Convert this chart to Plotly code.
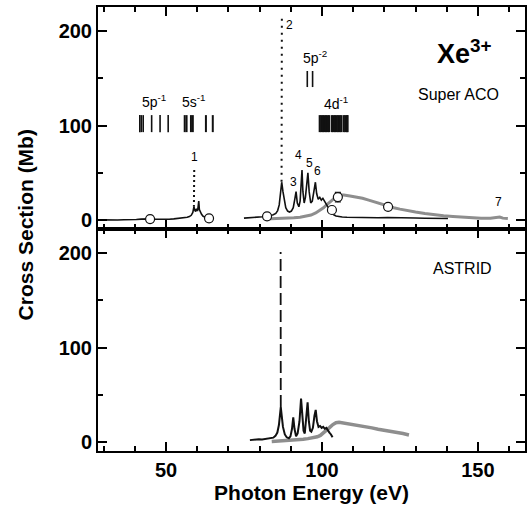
import plotly.graph_objects as go

# ---------------- data ----------------
# Super ACO, black curve, 5s region
sa_black1_e = [28.5, 30.5, 32.5, 34.5, 36.5, 38.5, 40.5, 42.0, 43.5, 45.0, 46.5, 48.0, 49.5, 51.0,
               52.5, 54.0, 55.0, 56.0, 56.8, 57.5, 58.1, 58.6, 58.95, 59.2, 59.5, 59.8, 60.1, 60.3,
               60.5, 60.7, 61.0, 61.4, 61.9, 62.5, 63.1, 63.8]
sa_black1_v = [0.2, 0.0, 0.4, 0.1, 0.3, 0.2, 0.5, 0.9, 1.4, 1.2, 0.9, 0.7, 1.0, 0.8,
               1.2, 1.6, 1.9, 2.4, 2.9, 3.6, 5.0, 8.0, 14.0, 11.0, 9.0, 12.0, 9.5, 14.0,
               20.0, 11.0, 8.5, 6.0, 4.0, 3.0, 2.0, 1.3]
sa_peak1_e = [59.05, 58.95]
sa_peak1_v = [53.0, 14.0]

# Super ACO, black curve, 4d region
sa_black2_e = [75.0, 76.5, 78.0, 79.5, 81.0, 82.4, 83.4, 84.4, 85.2, 85.8, 86.3, 86.7, 87.1,
               87.5, 87.9, 88.4, 89.0, 89.6, 90.2, 90.8, 91.3, 91.7, 92.1, 92.6, 93.0, 93.3, 93.6,
               93.9, 94.3, 94.7, 95.1, 95.5, 95.9, 96.4, 96.9, 97.4, 97.9, 98.3, 98.8, 99.3,
               99.8, 100.3, 100.8, 101.3, 101.8, 102.4, 103.2, 103.8, 104.5, 105.3, 106.5, 108,
               110, 112, 115, 118, 121, 124, 127, 130, 133, 136, 139, 140.4]
sa_black2_v = [2.0, 2.2, 2.6, 3.0, 3.5, 4.0, 4.6, 5.6, 7.0, 10.0, 16.0, 28.0, 40.0,
               30.0, 20.0, 13.0, 9.5, 8.5, 9.5, 13.0, 22.0, 30.0, 18.0, 14.0, 20.0, 35.0, 53.0,
               30.0, 18.0, 24.0, 38.0, 50.0, 30.0, 18.0, 20.0, 30.0, 40.0, 28.0, 22.0, 24.0,
               21.0, 23.0, 20.0, 17.0, 14.0, 11.0, 8.0, 5.5, 4.2, 3.6, 3.2, 3.0,
               2.8, 3.0, 2.6, 2.4, 2.6, 2.2, 2.0, 2.1, 1.9, 1.8, 1.7, 1.6]
sa_peak2_e = [87.15, 87.05]
sa_peak2_v = [213.0, 40.0]

# Super ACO, grey curve
sa_grey_e = [81.7, 83, 85, 87, 89, 91, 93, 95, 96.5, 98, 99.5, 100.5, 101.5, 102.5, 103.5,
             104.5, 105.5, 107, 109, 111, 113, 115, 117, 119, 121, 123, 125, 127, 130, 133,
             136, 139, 142, 145, 148, 151, 154, 156, 157, 158, 159.6]
sa_grey_v = [1.0, 1.1, 1.3, 1.6, 1.9, 2.3, 2.9, 4.0, 5.3, 7.5, 10.5, 13.0, 16.0, 19.0, 22.0,
             24.5, 26.5, 26.5, 25.5, 24.5, 23.0, 21.0, 19.0, 16.5, 14.5, 13.0, 11.5, 10.0, 8.5, 7.0,
             5.5, 4.5, 3.8, 3.0, 2.5, 2.0, 1.8, 2.2, 3.2, 2.0, 1.6]

# open circles (absolute measurements)
circ_e = [44.9, 63.8, 82.4, 103.2, 121.2]
circ_v = [1.0, 1.8, 3.9, 10.6, 14.0]
circ_err_e = [105.1]
circ_err_v = [24.3]
circ_err = [5.0]

# ASTRID, black curve
as_black_e = [76.9, 77.8, 78.8, 79.8, 80.8, 81.8, 82.8, 83.6, 84.4, 85.1, 85.7, 86.2, 86.5, 86.8,
              87.1, 87.5, 88.1, 88.7, 89.4, 89.9, 90.4, 90.8, 91.2, 91.7, 92.2, 92.8, 93.3, 93.7,
              94.1, 94.5, 95.0, 95.4, 95.8, 96.2, 96.6, 97.1, 97.6, 98.0, 98.4, 98.9, 99.4,
              99.9, 100.4, 100.9, 101.4, 101.9, 102.4, 102.9, 103.4]
as_black_v = [2.0, 2.5, 2.3, 3.0, 2.8, 3.4, 3.2, 4.0, 4.6, 6.5, 10.0, 18.0, 30.0, 37.0,
              28.0, 16.0, 8.0, 5.0, 4.0, 6.0, 14.0, 26.0, 14.0, 6.0, 9.0, 22.0, 46.0, 26.0,
              12.0, 9.0, 28.0, 42.0, 22.0, 12.0, 11.0, 15.0, 28.0, 34.0, 22.0, 16.0, 17.0,
              15.0, 16.0, 14.0, 15.0, 12.0, 10.0, 8.0, 5.0]
as_peak2_e = [86.8, 86.75]
as_peak2_v = [37.0, 201.0]

# ASTRID, grey curve
as_grey_e = [83.9, 85, 86.5, 88, 89.5, 91, 92.5, 94, 95.5, 97, 98.5, 99.5, 100.5, 101.5, 102.5,
             103.5, 104.5, 105.5, 106.5, 108, 110, 112, 114, 116, 118, 120, 122, 124, 126, 127.9]
as_grey_v = [0.6, 0.8, 1.0, 1.2, 1.5, 1.8, 2.3, 3.0, 3.6, 4.5, 5.5, 7.0, 9.5, 12.5, 15.5,
             18.5, 20.5, 21.0, 20.5, 19.5, 18.5, 17.5, 16.0, 15.0, 13.5, 12.5, 11.0, 10.0, 9.0, 7.5]

# level positions
lev_5p1 = [41.6, 42.1, 42.7, 45.4, 48.1, 50.7]
lev_5s1 = [56.0, 56.6, 58.0, 58.6, 62.8, 65.0]
lev_5p2 = [95.3, 97.0]
lev_4d1 = [99.3, 99.8, 100.3, 100.8, 101.3, 101.8, 102.3, 103.2, 103.7, 104.2, 104.7,
           105.2, 105.7, 106.2, 107.0, 107.5, 108.0, 108.2]

peak_labels = ["1", "2", "3", "4", "5", "6", "7"]
peak_label_e = [59.1, 89.7, 91.0, 92.6, 95.9, 98.6, 156.5]
peak_label_v = [66.3, 206.0, 40.5, 68.8, 60.6, 52.2, 19.4]

x_ticks = [50, 100, 150]
y_ticks = [0, 100, 200]

# ---------------- figure ----------------
FONT = "Liberation Sans, Arial, Helvetica, sans-serif"
BLACK = "#111111"
GREY = "#8e8e8e"


def bars(es, y0, y1):
    xs, ys = [], []
    for e in es:
        xs += [e, e, None]
        ys += [y0, y1, None]
    return xs, ys


fig = go.Figure()

top = dict(xaxis="x2", yaxis="y2")
bot = dict(xaxis="x", yaxis="y")

# top panel
fig.add_trace(go.Scatter(x=sa_grey_e, y=sa_grey_v, mode="lines",
                         line=dict(color=GREY, width=3), **top))
fig.add_trace(go.Scatter(x=sa_black1_e, y=sa_black1_v, mode="lines",
                         line=dict(color=BLACK, width=1.6), **top))
fig.add_trace(go.Scatter(x=sa_peak1_e, y=sa_peak1_v, mode="lines",
                         line=dict(color=BLACK, width=2, dash="2px,3px"), **top))
fig.add_trace(go.Scatter(x=sa_black2_e, y=sa_black2_v, mode="lines",
                         line=dict(color=BLACK, width=1.6), **top))
fig.add_trace(go.Scatter(x=sa_peak2_e, y=sa_peak2_v, mode="lines",
                         line=dict(color=BLACK, width=2, dash="2px,5px"), **top))

for es, y0, y1, w in [(lev_5p1, 93, 111, 1.6), (lev_5s1, 93, 111, 2.0),
                      (lev_5p2, 140.7, 157.7, 1.6), (lev_4d1, 93, 111, 2.2)]:
    bx, by = bars(es, y0, y1)
    fig.add_trace(go.Scatter(x=bx, y=by, mode="lines",
                             line=dict(color=BLACK, width=w), **top))

fig.add_trace(go.Scatter(x=circ_e, y=circ_v, mode="markers",
                         marker=dict(symbol="circle", size=9, color="white",
                                     line=dict(color=BLACK, width=1.2)), **top))
fig.add_trace(go.Scatter(x=circ_err_e, y=circ_err_v, mode="markers",
                         error_y=dict(type="data", array=circ_err, color=BLACK,
                                      thickness=1.2, width=3),
                         marker=dict(symbol="circle", size=9, color="white",
                                     line=dict(color=BLACK, width=1.2)), **top))

# bottom panel
fig.add_trace(go.Scatter(x=as_grey_e, y=as_grey_v, mode="lines",
                         line=dict(color=GREY, width=3.5), **bot))
fig.add_trace(go.Scatter(x=as_black_e, y=as_black_v, mode="lines",
                         line=dict(color=BLACK, width=2), **bot))
fig.add_trace(go.Scatter(x=as_peak2_e, y=as_peak2_v, mode="lines",
                         line=dict(color=BLACK, width=1.8, dash="12px,5px"), **bot))

axis_common = dict(
    showline=True, linecolor="black", linewidth=2, mirror="allticks",
    ticks="inside", tickcolor="black", tickwidth=1.5, ticklen=9,
    showgrid=False, zeroline=False, automargin=False,
    tickfont=dict(family=FONT, size=20, color="black", weight="bold"),
)

yr = [-9.5, 225.4]
fig.update_layout(
    width=529, height=510,
    margin=dict(l=98, r=4, t=7, b=59),
    paper_bgcolor="white", plot_bgcolor="white",
    showlegend=False,
    xaxis=dict(domain=[0, 1], anchor="y", range=[28.2, 165.1], tickvals=x_ticks,
               minor=dict(dtick=10, tick0=0, ticks="inside", ticklen=5, tickwidth=1.5,
                          tickcolor="black"),
               title=dict(text="Photon Energy (eV)", standoff=2,
                          font=dict(family=FONT, size=21, color="black", weight="bold")),
               **axis_common),
    xaxis2=dict(domain=[0, 1], anchor="y2", matches="x", range=[28.2, 165.1],
                tickvals=x_ticks, showticklabels=False,
                minor=dict(dtick=10, tick0=0, ticks="inside", ticklen=5, tickwidth=1.5,
                           tickcolor="black"),
                **axis_common),
    yaxis=dict(domain=[0, 0.5], anchor="x", range=yr, tickvals=y_ticks,
               minor=dict(dtick=50, tick0=0, ticks="inside", ticklen=5, tickwidth=1.5,
                          tickcolor="black"),
               **axis_common),
    yaxis2=dict(domain=[0.5, 1], anchor="x2", range=yr, tickvals=y_ticks,
                minor=dict(dtick=50, tick0=0, ticks="inside", ticklen=5, tickwidth=1.5,
                           tickcolor="black"),
                **axis_common),
)

ann = []
ann.append(dict(text="Cross Section (Mb)", xref="paper", yref="paper", x=-0.17, y=0.509,
                textangle=-90, showarrow=False, xanchor="center", yanchor="middle",
                font=dict(family=FONT, size=21, color="black", weight="bold")))
ann.append(dict(text="Xe<sup>3+</sup>", xref="x2", yref="y2", x=136.3, y=178,
                xanchor="left", yanchor="middle", showarrow=False,
                font=dict(family=FONT, size=27, color="black", weight="bold")))
ann.append(dict(text="Super ACO", xref="x2", yref="y2", x=143.9, y=133.3,
                xanchor="center", yanchor="middle", showarrow=False,
                font=dict(family=FONT, size=16, color="black")))
ann.append(dict(text="ASTRID", xref="x", yref="y", x=145.0, y=183.8,
                xanchor="center", yanchor="middle", showarrow=False,
                font=dict(family=FONT, size=16, color="black")))
for t, xe, yv in [("5p<sup>-1</sup>", 41.6, 126), ("5s<sup>-1</sup>", 54.5, 126),
                  ("5p<sup>-2</sup>", 93.2, 173), ("4d<sup>-1</sup>", 99.9, 124)]:
    ann.append(dict(text=t, xref="x2", yref="y2", x=xe, y=yv, xanchor="left",
                    yanchor="middle", showarrow=False,
                    font=dict(family=FONT, size=14, color="black")))
for t, xe, yv in zip(peak_labels, peak_label_e, peak_label_v):
    ann.append(dict(text=t, xref="x2", yref="y2", x=xe, y=yv, xanchor="center",
                    yanchor="middle", showarrow=False,
                    font=dict(family=FONT, size=12, color="black")))
fig.update_layout(annotations=ann)

fig.write_html("out.html",
               config={"displayModeBar": False},
               post_script="document.body.style.margin='0px';"
                           "document.body.style.overflow='hidden';")
